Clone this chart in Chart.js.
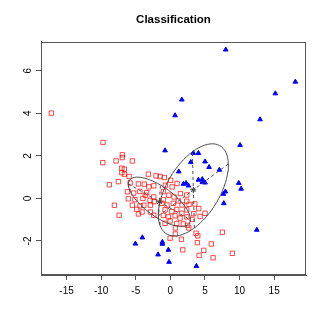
<!DOCTYPE html>
<html>
<head>
<meta charset="utf-8">
<script src="https://cdn.jsdelivr.net/npm/chart.js@4"></script>
<style>
  html, body { margin: 0; padding: 0; background: #fff; }
</style>
</head>
<body>
<canvas id="chart" width="327" height="327"></canvas>
<script>
const xTicks = [-15, -10, -5, 0, 5, 10, 15];
const yTicks = [-2, 0, 2, 4, 6];

// class 1: red open squares
const redX = [
  -17.2, -9.73, -9.77, -7.85, -6.94, -6.94, -5.49, -7.02, -6.65, -7.02, -6.65, -5.97,
  -7.51, -8.82, -5.82, -4.62, -3.76, -3.18, -2.07, -1.49, -0.87, -6.21, -5.30, -4.41,
  -3.44, -6.07, -5.12, -3.97, -2.93, -2.36, -8.09, -7.41, -4.62, -4.86, -5.49, -4.38,
  -3.12, -2.40, -0.72, 0.25, 0.97, 0.03, -1.01, 2.37, -3.61, -2.40, -0.23, 0.53,
  1.45, -1.01, 2.37, -3.84, -2.89, -1.24, -0.48, 0.43, 1.16, 1.69, 2.70, 3.53,
  -4.09, -2.89, -0.77, 0.20, 0.92, 1.65, 2.37, 4.10, 5.01, -2.40, -1.01, -0.29,
  0.68, 1.40, 2.37, 3.38, 4.29, -0.77, -0.04, 0.92, 1.88, 2.49, 3.14, 0.72,
  2.66, 0.72, -0.04, 1.59, 3.71, 3.96,
  3.90, 5.92, 1.79, 4.83, 7.51, 8.96, 4.15, 6.17
];
const redY = [
  4.01, 2.63, 1.68, 1.76, 2.05, 1.92, 1.76, 1.42, 1.37, 1.21, 1.14, 1.03,
  0.79, 0.64, 0.72, 0.68, 0.67, 1.14, 1.06, 1.03, 0.98, 0.31, 0.25, 0.33,
  0.27, -0.02, -0.06, 0.00, -0.09, -0.15, -0.32, -0.79, -0.73, -0.51, -0.32, -0.35,
  0.54, 0.59, 0.62, 0.54, 0.70, 0.85, 0.32, 0.16, 0.15, 0.07, 0.15, 0.07,
  0.23, -0.07, -0.13, -0.32, -0.32, -0.23, -0.31, -0.23, -0.12, -0.31, -0.28, -0.26,
  -0.64, -0.64, -0.54, -0.62, -0.52, -0.70, -0.54, -0.48, -0.70, -0.79, -0.80, -0.87,
  -0.82, -0.93, -0.87, -0.72, -0.85, -1.17, -1.06, -1.18, -1.20, -1.27, -0.99, -1.39,
  -1.39, -1.67, -1.87, -1.92, -1.64, -1.76,
  -2.08, -2.14, -2.42, -2.44, -1.59, -2.58, -2.68, -2.79
];

// class 2: blue filled triangles
const blueX = [
  8.00, 18.06, 15.17, 1.65, 0.68, 12.96, -0.77, 10.07, 3.32, 4.05, 2.95, 5.01,
  5.59, 7.08, 1.21, 4.05, 4.62, 4.62, 5.01, 1.88, 2.27, 2.60, 9.88, 10.22,
  7.95, 7.66, 7.72, 12.49, -4.05, -5.06, -1.16, -1.16, -1.78, -0.29, -0.19, 3.76
];
const blueY = [
  6.99, 5.48, 4.93, 4.64, 3.90, 3.71, 2.25, 2.50, 2.13, 2.13, 1.70, 1.73,
  1.47, 1.34, 1.26, 0.87, 0.90, 0.76, 0.74, 0.68, 0.72, 0.60, 0.72, 0.45,
  0.32, 0.21, -0.23, -1.48, -1.84, -2.13, -2.05, -2.14, -2.64, -2.42, -2.99, -3.18
];

// ellipse centres and half-axes (blue class, red class)
const ellCx = [3.32, -1.59];
const ellCy = [0.40, -0.16];
const majX = [5.06, 4.48];
const majY = [1.22, -0.85];
const minX = [-0.14, 0.15];
const minY = [1.79, 0.79];

function ellipse(i) {
  const pts = [];
  for (let k = 0; k <= 72; k++) {
    const t = (k / 72) * 2 * Math.PI;
    pts.push({
      x: ellCx[i] + Math.cos(t) * majX[i] + Math.sin(t) * minX[i],
      y: ellCy[i] + Math.cos(t) * majY[i] + Math.sin(t) * minY[i]
    });
  }
  return pts;
}

function axisLine(i, ax, ay) {
  return [
    { x: ellCx[i] - ax[i], y: ellCy[i] - ay[i] },
    { x: ellCx[i] + ax[i], y: ellCy[i] + ay[i] }
  ];
}

const grey = "#4d4d4d";
const lineSet = (data, dash) => ({
  data, showLine: true, pointRadius: 0, borderColor: grey, borderWidth: 1,
  borderDash: dash, fill: false
});

const datasets = [];
for (let i = 0; i < ellCx.length; i++) {
  datasets.push(lineSet(ellipse(i), []));
  datasets.push(lineSet(axisLine(i, majX, majY), [3, 3]));
  datasets.push(lineSet(axisLine(i, minX, minY), [3, 3]));
}
datasets.push({
  data: ellCx.map((x, i) => ({ x, y: ellCy[i] })),
  pointStyle: "star", pointRadius: 3, borderColor: "#333", borderWidth: 1
});
datasets.push({
  label: "2",
  data: blueX.map((x, i) => ({ x, y: blueY[i] })),
  pointStyle: "triangle", pointRadius: 2.7,
  backgroundColor: "#0000ff", borderColor: "#0000ff", borderWidth: 1
});
datasets.push({
  label: "1",
  data: redX.map((x, i) => ({ x, y: redY[i] })),
  pointStyle: "rect", pointRadius: 3.1,
  backgroundColor: "rgba(0,0,0,0)", borderColor: "rgba(255,0,0,0.72)", borderWidth: 1
});

const boxPlugin = {
  id: "box",
  afterDraw(chart) {
    const { ctx, chartArea: a } = chart;
    ctx.save();
    ctx.strokeStyle = "#555";
    ctx.lineWidth = 1;
    ctx.strokeRect(Math.round(a.left) + 0.5, Math.round(a.top) + 0.5,
      Math.round(a.right - a.left) - 1, Math.round(a.bottom - a.top) - 1);
    ctx.restore();
  }
};

Chart.defaults.font.family = "'Liberation Sans', Arial, sans-serif";
Chart.defaults.color = "#000";

new Chart(document.getElementById("chart"), {
  type: "scatter",
  data: { datasets },
  options: {
    responsive: false,
    animation: false,
    layout: { padding: { top: 0, right: 21, left: 0, bottom: 0 } },
    plugins: {
      legend: { display: false },
      tooltip: { enabled: false },
      title: {
        display: true,
        text: "Classification",
        fullSize: false,
        font: { size: 11.5, weight: "bold" },
        color: "#000",
        padding: { top: 13, bottom: 15 }
      }
    },
    scales: {
      x: {
        type: "linear",
        min: -18.7,
        max: 19.6,
        afterBuildTicks: s => { s.ticks = xTicks.map(v => ({ value: v })); },
        afterFit: s => { s.height = 52; },
        grid: { drawOnChartArea: false, tickLength: 5, color: "#555" },
        border: { color: "#555" },
        ticks: { font: { size: 10 }, padding: 5, maxRotation: 0 }
      },
      y: {
        type: "linear",
        min: -3.6,
        max: 7.36,
        afterBuildTicks: s => { s.ticks = yTicks.map(v => ({ value: v })); },
        afterFit: s => { s.width = 41; },
        grid: { drawOnChartArea: false, tickLength: 5, color: "#555" },
        border: { color: "#555" },
        ticks: { font: { size: 10 }, padding: 3.5, minRotation: 90, maxRotation: 90, crossAlign: "center" }
      }
    }
  },
  plugins: [boxPlugin]
});
</script>
</body>
</html>
